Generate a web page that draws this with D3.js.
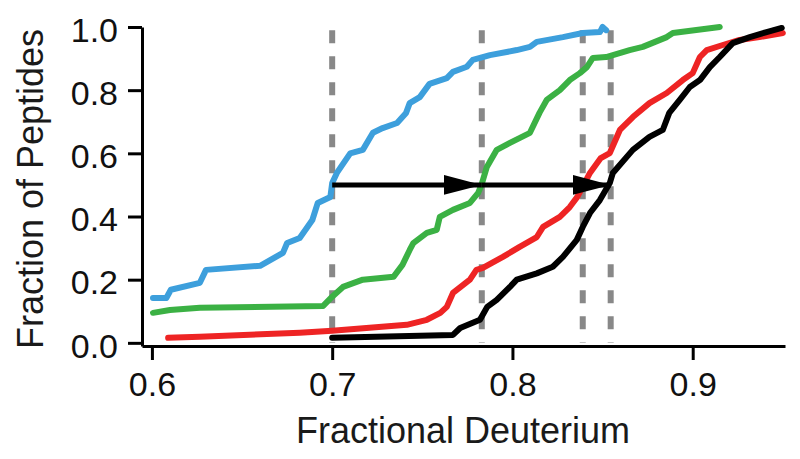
<!DOCTYPE html>
<html>
<head>
<meta charset="utf-8">
<script src="https://cdn.jsdelivr.net/npm/d3@7"></script>
<style>
  body { margin: 0; background: #fff; }
  svg { display: block; font-family: "Liberation Sans", Arial, sans-serif; }
  .axis path, .axis line { stroke: #000; stroke-width: 3px; }
  .axis text { font-size: 34px; fill: #111; }
  .label { font-size: 36px; fill: #1a1a1a; }
</style>
</head>
<body>
<svg width="800" height="459"></svg>
<script>
// ECDF curves: [fractional deuterium, fraction of peptides]
const blue = [
  [0.6006,0.142],[0.608,0.142],[0.6105,0.168],[0.6266,0.19],[0.630,0.231],[0.660,0.244],
  [0.6727,0.285],[0.675,0.316],[0.682,0.332],[0.689,0.389],[0.692,0.443],[0.699,0.462],
  [0.700,0.506],[0.7026,0.538],[0.710,0.600],[0.717,0.611],[0.7226,0.665],[0.728,0.680],
  [0.736,0.696],[0.741,0.728],[0.743,0.759],[0.7486,0.778],[0.754,0.820],[0.7636,0.838],
  [0.767,0.858],[0.7747,0.874],[0.778,0.896],[0.7875,0.911],[0.8024,0.927],[0.8097,0.937],
  [0.8135,0.953],[0.828,0.968],[0.839,0.981],[0.8485,0.984],[0.850,1.0],[0.852,0.99]
];
const green = [
  [0.6006,0.095],[0.61,0.104],[0.6266,0.111],[0.695,0.117],[0.700,0.146],[0.706,0.177],
  [0.717,0.200],[0.734,0.209],[0.739,0.247],[0.743,0.294],[0.745,0.316],[0.7525,0.348],
  [0.758,0.358],[0.7597,0.399],[0.767,0.421],[0.7764,0.443],[0.781,0.475],[0.783,0.503],
  [0.7858,0.557],[0.7913,0.611],[0.7986,0.633],[0.8097,0.665],[0.815,0.728],[0.819,0.769],
  [0.8263,0.800],[0.8318,0.832],[0.8374,0.854],[0.8413,0.873],[0.8446,0.902],[0.852,0.905],
  [0.865,0.927],[0.8723,0.937],[0.8856,0.968],[0.889,0.981],[0.915,1.0]
];
const red = [
  [0.609,0.016],[0.6266,0.019],[0.682,0.032],[0.700,0.038],[0.7414,0.057],[0.7525,0.073],
  [0.760,0.095],[0.7636,0.114],[0.767,0.158],[0.7764,0.200],[0.780,0.231],[0.7836,0.237],
  [0.7947,0.272],[0.804,0.304],[0.8135,0.335],[0.817,0.367],[0.8263,0.399],[0.8318,0.430],
  [0.836,0.462],[0.843,0.538],[0.849,0.585],[0.854,0.601],[0.8596,0.674],[0.8668,0.715],
  [0.876,0.759],[0.8856,0.791],[0.8945,0.832],[0.900,0.854],[0.904,0.905],[0.9078,0.927],
  [0.9167,0.943],[0.926,0.959],[0.937,0.968],[0.950,0.981]
];
const black = [
  [0.700,0.016],[0.767,0.025],[0.771,0.047],[0.782,0.073],[0.786,0.114],[0.7913,0.136],
  [0.7986,0.177],[0.8024,0.200],[0.8135,0.220],[0.8224,0.241],[0.828,0.272],[0.8357,0.326],
  [0.839,0.367],[0.843,0.411],[0.8485,0.452],[0.854,0.506],[0.8557,0.538],[0.8668,0.611],
  [0.876,0.652],[0.8834,0.674],[0.887,0.728],[0.8928,0.769],[0.8984,0.810],[0.904,0.832],
  [0.9095,0.873],[0.915,0.905],[0.9222,0.949],[0.9317,0.968],[0.941,0.984],[0.9494,0.997]
];
const series = [
  { name: 'blue', color: '#3d9fdc', values: blue },
  { name: 'green', color: '#3bb144', values: green },
  { name: 'red', color: '#ee2424', values: red },
  { name: 'black', color: '#000000', values: black }
];
const midpoints = [0.700, 0.783, 0.839, 0.8545];  // dashed markers
const arrows = [[0.700, 0.783], [0.783, 0.8545]];   // at y = 0.5
const xTicks = [0.6, 0.7, 0.8, 0.9];
const yTicks = [0, 0.2, 0.4, 0.6, 0.8, 1.0];

const svg = d3.select('svg');

const x = d3.scaleLinear().domain([0.5945, 0.9512]).range([142, 785]);
const y = d3.scaleLinear().domain([-0.01, 1]).range([346, 27]);

svg.append('defs').append('marker')
  .attr('id', 'head')
  .attr('viewBox', '0 0 38 20')
  .attr('refX', 38).attr('refY', 10)
  .attr('markerWidth', 38).attr('markerHeight', 20)
  .attr('markerUnits', 'userSpaceOnUse')
  .attr('orient', 'auto')
  .append('path').attr('d', 'M0,0 L38,10 L0,20 Z').attr('fill', '#000');

// axes
svg.append('g')
  .attr('class', 'axis')
  .attr('transform', `translate(142,0)`)
  .call(d3.axisLeft(y).tickValues(yTicks).tickFormat(d3.format('.1f')).tickSize(14).tickPadding(10).tickSizeOuter(0))
  .selectAll('text').attr('dy', '0.42em');

svg.append('g')
  .attr('class', 'axis')
  .attr('transform', `translate(0,346)`)
  .call(d3.axisBottom(x).tickValues(xTicks).tickFormat(d3.format('.1f')).tickSize(14).tickPadding(12).tickSizeOuter(0));

// dashed guides
svg.append('g').selectAll('line')
  .data(midpoints)
  .join('line')
  .attr('x1', d => x(d)).attr('x2', d => x(d))
  .attr('y1', y(0.99)).attr('y2', y(0.0))
  .attr('stroke', '#888')
  .attr('stroke-width', 6)
  .attr('stroke-dasharray', '13,13');

const line = d3.line().x(d => x(d[0])).y(d => y(d[1]));

svg.append('g').selectAll('path')
  .data(series)
  .join('path')
  .attr('d', d => line(d.values))
  .attr('fill', 'none')
  .attr('stroke', d => d.color)
  .attr('stroke-width', 6)
  .attr('stroke-linejoin', 'round')
  .attr('stroke-linecap', 'round');

svg.append('g').selectAll('line')
  .data(arrows)
  .join('line')
  .attr('x1', d => x(d[0])).attr('x2', d => x(d[1]))
  .attr('y1', y(0.5)).attr('y2', y(0.5))
  .attr('stroke', '#000')
  .attr('stroke-width', 5)
  .attr('marker-end', 'url(#head)');

svg.append('text')
  .attr('class', 'label')
  .attr('transform', `translate(43,189) rotate(-90)`)
  .attr('text-anchor', 'middle')
  .text('Fraction of Peptides');

svg.append('text')
  .attr('class', 'label')
  .attr('x', 463)
  .attr('y', 443)
  .attr('text-anchor', 'middle')
  .text('Fractional Deuterium');
</script>
</body>
</html>
